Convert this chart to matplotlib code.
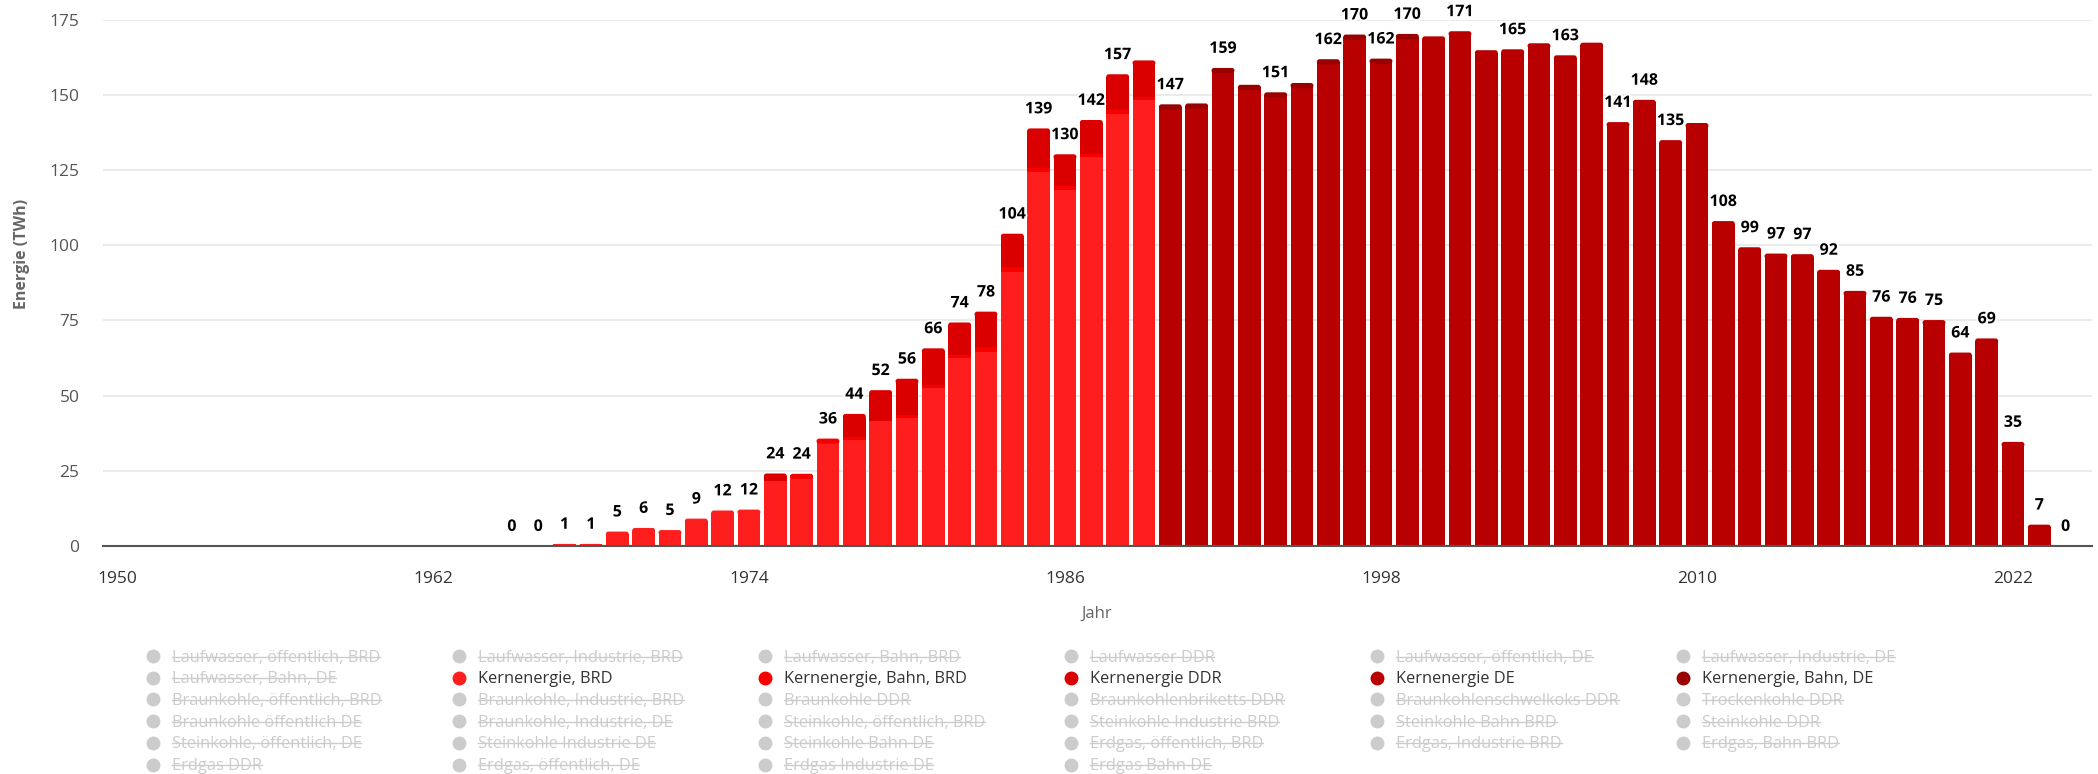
import matplotlib
matplotlib.use("Agg")
import matplotlib.pyplot as plt
import matplotlib.patheffects as pe
from matplotlib.lines import Line2D
from matplotlib.patches import FancyBboxPatch
import numpy as np

plt.rcParams['font.family'] = ['Open Sans', 'DejaVu Sans']

# ---------------- data ----------------
years = list(range(1965, 2025))

kern_brd = [0, 0, 0.7, 0.7, 4.8, 6.0, 5.3, 9.1, 11.8, 12.1,
            21.5, 23.5, 35.0, 35.2, 41.7, 42.5, 52.4, 62.4, 64.5, 91.0,
            124.3, 118.4, 129.4, 143.6, 148.1] + [0] * 35
kern_bahn_brd = [0] * 10 + [0, 0.5, 0.7, 0.9, 0, 1.1, 1.0, 1.0, 1.5, 1.7,
                            1.3, 1.2, 1.0, 1.2, 1.1] + [0] * 35
kern_ddr = [0] * 10 + [2.6, 0, 0, 7.8, 10.1, 12.0, 12.3, 10.9, 11.9, 11.1,
                       13.2, 10.6, 11.2, 12.0, 12.2] + [0] * 35
kern_de = [0] * 25 + [145.5, 146.0, 157.7, 152.3, 149.8, 152.9, 160.4, 168.7, 160.6, 168.9,
                      169.4, 171.1, 164.8, 165.1, 167.1, 163.1, 167.3, 140.9, 148.3, 134.9,
                      140.6, 108.0, 99.3, 97.2, 97.0, 91.8, 84.8, 76.2, 75.8, 75.1,
                      64.3, 69.0, 34.6, 7.1, 0]
kern_bahn_de = [0] * 25 + [1.3, 1.1, 1.2, 1.0, 1.0, 1.0, 1.4, 1.3, 1.4, 1.3] + [0] * 25

hidden_label_years = [1989, 1991, 1993, 1995, 2000, 2002, 2004, 2006, 2010]

series_names = ["Kernenergie, BRD", "Kernenergie, Bahn, BRD", "Kernenergie DDR",
                "Kernenergie DE", "Kernenergie, Bahn, DE"]
series_colors = ["#ff1e1e", "#f80000", "#db0000", "#b80000", "#990000"]

legend_rows = [
    ["Laufwasser, öffentlich, BRD", "Laufwasser, Industrie, BRD", "Laufwasser, Bahn, BRD",
     "Laufwasser DDR", "Laufwasser, öffentlich, DE", "Laufwasser, Industrie, DE"],
    ["Laufwasser, Bahn, DE", "Kernenergie, BRD", "Kernenergie, Bahn, BRD",
     "Kernenergie DDR", "Kernenergie DE", "Kernenergie, Bahn, DE"],
    ["Braunkohle, öffentlich, BRD", "Braunkohle, Industrie, BRD", "Braunkohle DDR",
     "Braunkohlenbriketts DDR", "Braunkohlenschwelkoks DDR", "Trockenkohle DDR"],
    ["Braunkohle öffentlich DE", "Braunkohle, Industrie, DE", "Steinkohle, öffentlich, BRD",
     "Steinkohle Industrie BRD", "Steinkohle Bahn BRD", "Steinkohle DDR"],
    ["Steinkohle, öffentlich, DE", "Steinkohle Industrie DE", "Steinkohle Bahn DE",
     "Erdgas, öffentlich, BRD", "Erdgas, Industrie BRD", "Erdgas, Bahn BRD"],
    ["Erdgas DDR", "Erdgas, öffentlich, DE", "Erdgas Industrie DE", "Erdgas Bahn DE"],
]

x_ticks = [1950, 1962, 1974, 1986, 1998, 2010, 2022]
y_ticks = [0, 25, 50, 75, 100, 125, 150, 175]

# ---------------- figure ----------------
W_PX, H_PX = 2098, 774
fig = plt.figure(figsize=(W_PX / 100, H_PX / 100), dpi=100)

def fx(px):
    return px / W_PX

def fy(py):
    return 1 - py / H_PX

left_px, right_px, top_px, base_px = 103, 2092, 19.5, 546
ax = fig.add_axes([fx(left_px), fy(base_px), fx(right_px - left_px), (base_px - top_px) / H_PX])
ax.set_xlim(1949.47, 2025.0)
ax.set_ylim(0, 175)

BAR_W = 0.87
px_per_x = (right_px - left_px) / (2025.0 - 1949.47)
px_per_y = (base_px - top_px) / 175.0
r_x = 2.6 / px_per_x
r_y = 2.6 / px_per_y

series = [np.array(s, dtype=float) for s in [kern_brd, kern_bahn_brd, kern_ddr, kern_de, kern_bahn_de]]
n = len(years)
totals = np.sum(series, axis=0)
# index of topmost non-zero series per year
top_idx = np.full(n, -1)
for k, v in enumerate(series):
    top_idx[v > 0] = k

bottom = np.zeros(n)
for k, (v, col) in enumerate(zip(series, series_colors)):
    h = v.copy()
    is_top = (top_idx == k) & (totals > 2 * r_y)
    h[is_top] = h[is_top] - r_y
    ax.bar(years, h, bottom=bottom, width=BAR_W, color=col, linewidth=0, zorder=3, align="center")
    bottom += v

for i, yr in enumerate(years):
    k = top_idx[i]
    if k < 0:
        continue
    tot = totals[i]
    if tot > 2 * r_y:
        y0, hh = tot - 2 * r_y, 2 * r_y
    else:
        y0, hh = 0, tot
    patch = FancyBboxPatch((yr - BAR_W / 2, y0), BAR_W, hh,
                           boxstyle=f"round,pad=0,rounding_size={r_x}",
                           mutation_aspect=r_y / r_x, facecolor=series_colors[k],
                           edgecolor="none", linewidth=0, zorder=3)
    ax.add_patch(patch)

for yr, tot in zip(years, totals):
    if yr in hidden_label_years:
        continue
    ax.annotate(f"{int(round(tot))}", (yr, tot), xytext=(0, 8), textcoords="offset points",
                ha="center", va="bottom", fontsize=11.5, fontweight="bold", color="#000000",
                zorder=5,
                path_effects=[pe.withStroke(linewidth=2.5, foreground="white")])

ax.set_xticks(x_ticks)
ax.set_xticklabels([str(t) for t in x_ticks])
ax.set_yticks(y_ticks)
ax.set_yticklabels([str(t) for t in y_ticks])
ax.tick_params(axis="x", length=0, pad=18, labelsize=12.5, labelcolor="#333333")
ax.tick_params(axis="y", length=0, pad=17, labelsize=12.5, labelcolor="#555555")
ax.grid(axis="y", color="#e6e6e6", linewidth=1.1, zorder=0)
ax.set_axisbelow(True)
for s in ["top", "right", "left"]:
    ax.spines[s].set_visible(False)
ax.spines["bottom"].set_color("#555555")
ax.spines["bottom"].set_linewidth(1.5)
ax.spines["bottom"].set_zorder(6)

fig.text(fx(22), fy(254), "Energie (TWh)", rotation=90, ha="center", va="center",
         fontsize=11.5, fontweight="bold", color="#666666")
fig.text(fx(1097), fy(614), "Jahr", ha="center", va="center", fontsize=12, color="#666666")

# ---------------- legend ----------------
col_x = [152.5, 458.5, 764.5, 1070.5, 1377, 1683]
row_y = [656, 677.7, 699.4, 721.1, 742.8, 764.5]
color_map = dict(zip(series_names, series_colors))
leg_fs = 11.8
texts = []
for r, row in enumerate(legend_rows):
    for c, name in enumerate(row):
        visible = name in color_map
        mcol = color_map[name] if visible else "#cccccc"
        tcol = "#333333" if visible else "#cccccc"
        fig.add_artist(Line2D([fx(col_x[c])], [fy(row_y[r])], marker="o", markersize=9,
                              color=mcol, linestyle="none", transform=fig.transFigure))
        t = fig.text(fx(col_x[c] + 19), fy(row_y[r] + 5.6), name, ha="left", va="baseline",
                     fontsize=leg_fs, color=tcol)
        texts.append((t, visible, row_y[r] + 5.6))

fig.canvas.draw()
renderer = fig.canvas.get_renderer()
fs_px = leg_fs * 100 / 72
for t, visible, base in texts:
    if visible:
        continue
    bb = t.get_window_extent(renderer)
    ys = fy(base - 0.30 * fs_px)
    fig.add_artist(Line2D([bb.x0 / W_PX, bb.x1 / W_PX], [ys, ys], color="#cccccc",
                          linewidth=1.0, transform=fig.transFigure))

fig.savefig("out.png", dpi=100, facecolor="white")
